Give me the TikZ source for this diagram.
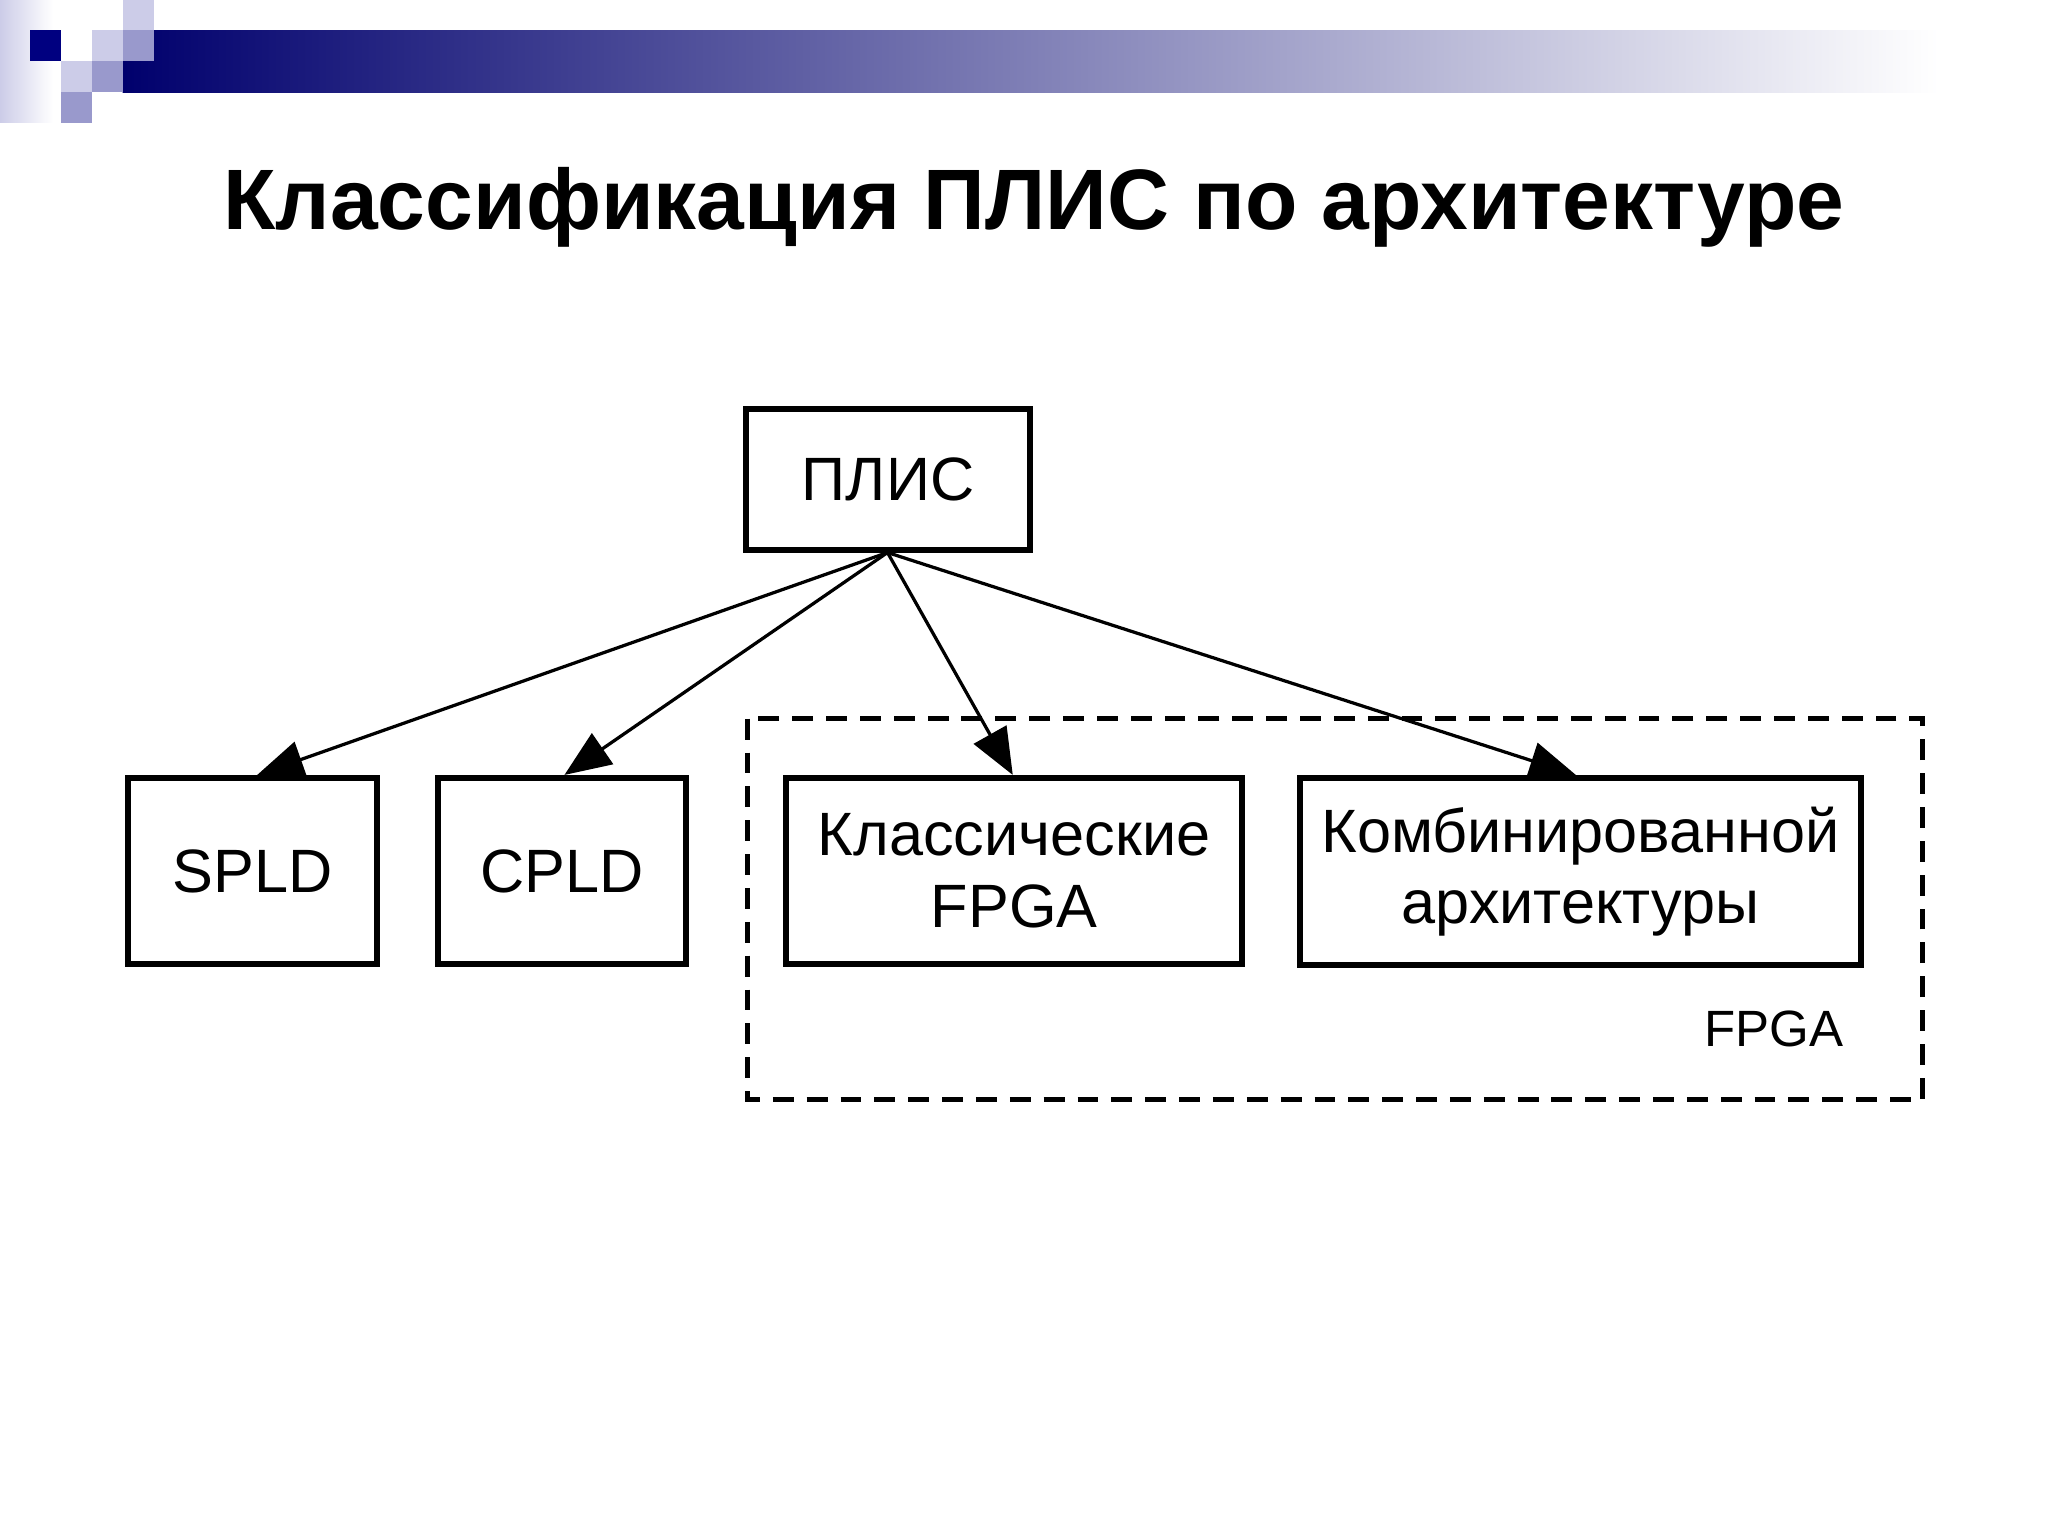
\documentclass[tikz,border=0pt]{standalone}
\usepackage{fontspec}
\setmainfont{Liberation Sans}
\usetikzlibrary{arrows.meta}
\definecolor{navy}{RGB}{0,0,128}
\definecolor{lightb}{RGB}{204,204,232}
\definecolor{medb}{RGB}{153,153,204}
\begin{document}
\begin{tikzpicture}[x=0.01cm,y=-0.01cm,
  box/.style={draw,line width=1.3pt,inner sep=0pt,align=center,font=\fontsize{13.2}{15.5}\selectfont},
  arr/.style={-{Triangle[length=10pt,width=8pt]},line width=0.7pt}]
\useasboundingbox (0,0) rectangle (1553,1165);
% decoration
\shade[left color=lightb,right color=white] (0,0) rectangle (40,93);
\shade[left color=navy!85!black,right color=white] (93,23) rectangle (1470,70);
\fill[navy] (23,23) rectangle (46.5,46.5);
\fill[lightb] (93,0) rectangle (116.5,23);
\fill[lightb] (70,23) rectangle (93,46.5);
\fill[medb] (93,23) rectangle (116.5,46.5);
\fill[lightb] (46.5,46.5) rectangle (70,70);
\fill[medb] (70,46.5) rectangle (93,70);
\fill[medb] (46.5,70) rectangle (70,93);
% title
\node[font=\bfseries\fontsize{18.5}{22}\selectfont] (title) at (784,157) {Классификация ПЛИС по архитектуре};
% boxes
\node[box,minimum width=2.15cm,minimum height=1.07cm] (plis) at (673.5,363.5) {ПЛИС};
\node[box,minimum width=1.89cm,minimum height=1.41cm] (spld) at (191.5,660.5) {SPLD};
\node[box,minimum width=1.88cm,minimum height=1.41cm] (cpld) at (426,660.5) {CPLD};
\node[box,minimum width=3.46cm,minimum height=1.41cm] (cls) at (769,660.5) {Классические\\FPGA};
\node[box,minimum width=4.25cm,minimum height=1.42cm] (cmb) at (1198.5,661) {Комбинированной\\архитектуры};
\draw[dash pattern=on 4.5pt off 2.8pt,line width=1.1pt] (567,545) rectangle (1458,834);
\node[font=\fontsize{11}{13}\selectfont] (fpga) at (1345,780) {FPGA};
\coordinate (src) at (673,419);
\draw[arr] (src) -- (spld.north -| 195,0);
\draw[arr] (src) -- (cpld.north -| 428,0);
\draw[arr] (src) -- (cls.north -| 768,0);
\draw[arr] (src) -- (cmb.north -| 1195,0);
\end{tikzpicture}
\end{document}
